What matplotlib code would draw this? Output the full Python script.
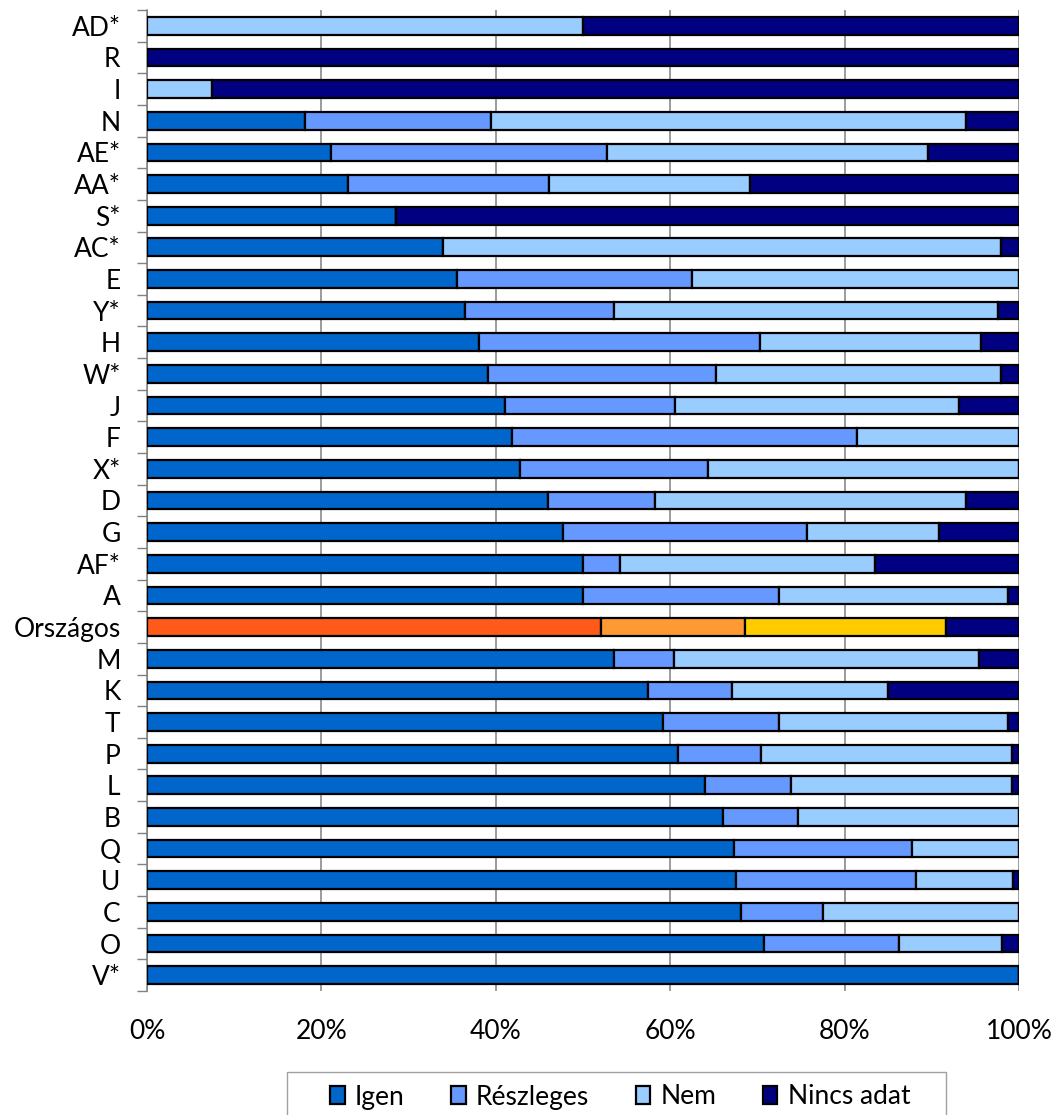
import matplotlib
matplotlib.use("Agg")
import matplotlib.pyplot as plt
from matplotlib.patches import Rectangle
import numpy as np

categories = ["AD*", "R", "I", "N", "AE*", "AA*", "S*", "AC*", "E", "Y*", "H", "W*",
              "J", "F", "X*", "D", "G", "AF*", "A", "Országos", "M", "K", "T", "P",
              "L", "B", "Q", "U", "C", "O", "V*"]

# cumulative boundaries (percent)
igen = [0, 0, 0, 18.1, 21.1, 23.0, 28.5, 34.0, 35.5, 36.5, 38.1, 39.1,
        41.1, 41.9, 42.8, 46.0, 47.7, 50.0, 50.0, 52.1, 53.5, 57.4, 59.2, 60.9,
        64.0, 66.1, 67.3, 67.5, 68.1, 70.7, 100.0]
reszleges_end = [0, 0, 0, 39.4, 52.7, 46.1, 28.5, 34.0, 62.5, 53.6, 70.3, 65.3,
                 60.5, 81.4, 64.3, 58.2, 75.7, 54.2, 72.5, 68.6, 60.4, 67.1, 72.5, 70.4,
                 73.8, 74.7, 87.7, 88.2, 77.5, 86.2, 100.0]
nem_end = [50.0, 0, 7.5, 93.9, 89.6, 69.2, 28.5, 97.9, 100.0, 97.6, 95.6, 97.9,
           93.1, 100.0, 100.0, 93.9, 90.8, 83.5, 98.7, 91.6, 95.4, 85.0, 98.7, 99.2,
           99.2, 100.0, 100.0, 99.3, 100.0, 98.0, 100.0]

series_names = ["Igen", "Részleges", "Nem", "Nincs adat"]
colors = ["#0066CC", "#6699FF", "#99CCFF", "#000080"]
highlight_colors = ["#FF5A19", "#FF9933", "#FFCC00", "#000080"]
highlight = "Országos"

igen = np.array(igen)
resz = np.array(reszleges_end) - igen
nem = np.array(nem_end) - np.array(reszleges_end)
nincs = 100.0 - np.array(nem_end)
series = [igen, resz, nem, nincs]

plt.rcParams['font.family'] = ['Lato', 'DejaVu Sans']

fig = plt.figure(figsize=(10.59, 11.15), dpi=100)
ax = fig.add_axes([147/1059, 1 - 991/1115, (1019 - 147)/1059, (991 - 10)/1115])

y = np.arange(len(categories))
left = np.zeros(len(categories))
handles = []
for i, (name, vals) in enumerate(zip(series_names, series)):
    cols = [highlight_colors[i] if c == highlight else colors[i] for c in categories]
    ax.barh(y, vals, left=left, height=0.56, color=cols,
            edgecolor="black", linewidth=1.6, label=name, zorder=3)
    handles.append(Rectangle((0, 0), 1, 1, facecolor=colors[i], edgecolor="black", linewidth=1.6))
    left = left + vals

ax.set_xlim(0, 100)
ax.set_ylim(len(categories) - 0.5, -0.5)
ax.set_xticks([0, 20, 40, 60, 80, 100])
ax.set_xticklabels(["0%", "20%", "40%", "60%", "80%", "100%"])
ax.set_yticks(y)
ax.set_yticklabels(categories)
ax.set_yticks(np.arange(-0.5, len(categories), 1), minor=True)

ax.tick_params(axis="y", which="major", length=0, pad=19, labelsize=19)
ax.tick_params(axis="y", which="minor", length=7, color="#808080", width=1, direction="out")
ax.tick_params(axis="x", which="major", length=0, pad=20, labelsize=19, color="#808080")

ax.grid(axis="x", color="#808080", linewidth=1.1, zorder=0)
ax.set_axisbelow(True)
for s in ["top", "right", "bottom"]:
    ax.spines[s].set_visible(False)
ax.spines["left"].set_color("#808080")
ax.spines["left"].set_linewidth(1.1)

# legend frame (extends past the bottom edge like the reference)
frame = Rectangle((287/1059, 1 - 1125/1115), (946 - 287)/1059, (1125 - 1072)/1115,
                  transform=fig.transFigure, facecolor="white", edgecolor="#A0A0A0",
                  linewidth=1.0, zorder=1)
fig.patches.append(frame)

leg = fig.legend(handles, series_names, loc="center left",
                 bbox_to_anchor=(330/1059, 1 - 1097/1115), ncol=4, frameon=False,
                 fontsize=19, handlelength=0.55, handleheight=0.65, handletextpad=0.4,
                 columnspacing=1.75, borderaxespad=0, borderpad=0)

fig.savefig("out.png", dpi=100)
